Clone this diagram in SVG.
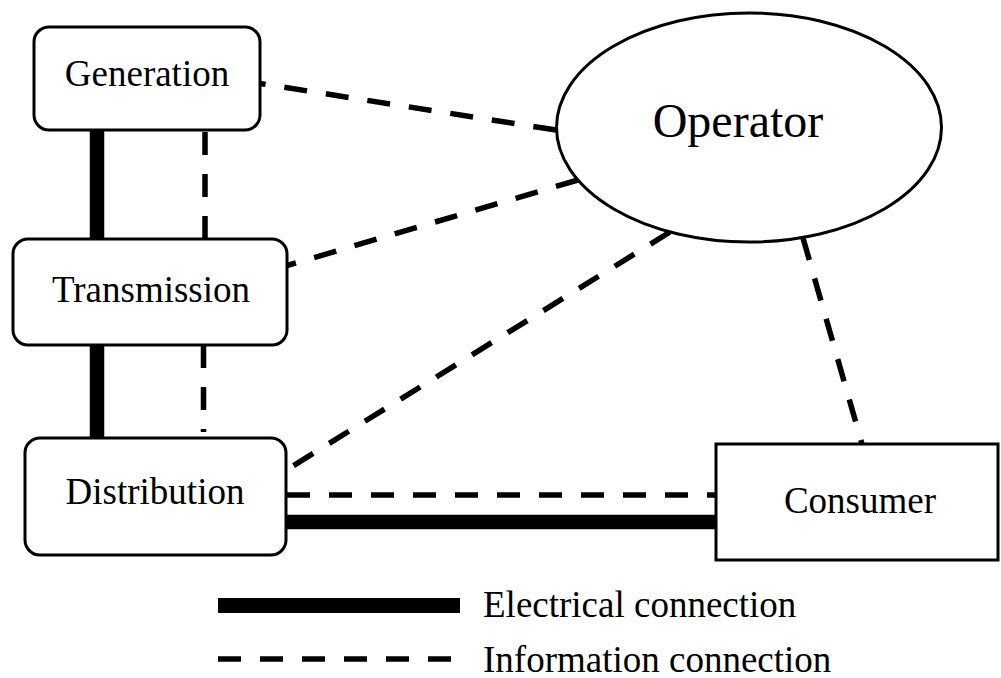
<svg xmlns="http://www.w3.org/2000/svg" width="1001" height="678" viewBox="0 0 1001 678">
<style>
.box{fill:#fff;stroke:#000;stroke-width:3}
.lbl{font-family:"Liberation Serif","Times New Roman",serif;font-size:37px;fill:#000}
.elec{stroke:#000;stroke-width:14.5;fill:none}
.info{stroke:#000;stroke-width:5.5;fill:none;stroke-dasharray:23 19}
</style>
<rect width="1001" height="678" fill="#fff"/>
<g id="connectors">
<line class="elec" x1="97" y1="130" x2="97" y2="239"/>
<line class="elec" x1="97" y1="345" x2="97" y2="438"/>
<line class="elec" x1="286" y1="522" x2="716" y2="522"/>
<line class="info" x1="205" y1="239" x2="205" y2="130"/>
<line class="info" x1="203.5" y1="345" x2="203.5" y2="432"/>
<line class="info" x1="287" y1="495" x2="716" y2="495"/>
<line class="info" x1="556" y1="130" x2="260" y2="83.5"/>
<line class="info" x1="578" y1="180" x2="287" y2="265.5"/>
<line class="info" x1="670" y1="232" x2="288" y2="469"/>
<line class="info" x1="803" y1="238" x2="862" y2="444"/>
</g>
<g id="generation">
<rect class="box" x="34" y="27" width="226" height="103" rx="15"/>
<text class="lbl" x="147" y="86" text-anchor="middle">Generation</text>
</g>
<g id="transmission">
<rect class="box" x="13" y="239" width="274" height="106" rx="15"/>
<text class="lbl" x="151" y="302" text-anchor="middle">Transmission</text>
</g>
<g id="distribution">
<rect class="box" x="25" y="438" width="261" height="117" rx="15"/>
<text class="lbl" x="155" y="504" text-anchor="middle">Distribution</text>
</g>
<g id="consumer">
<rect class="box" x="716" y="444" width="282" height="116"/>
<text class="lbl" x="860" y="513" text-anchor="middle">Consumer</text>
</g>
<g id="operator">
<ellipse class="box" cx="749" cy="127.5" rx="192.5" ry="114.5"/>
<text class="lbl" x="738" y="137" text-anchor="middle" style="font-size:48px">Operator</text>
</g>
<g id="legend">
<line class="elec" x1="218" y1="605.5" x2="460" y2="605.5" style="stroke-width:15"/>
<line class="info" x1="218" y1="659" x2="453" y2="659"/>
<text class="lbl" x="483" y="617">Electrical connection</text>
<text class="lbl" x="483" y="672">Information connection</text>
</g>
</svg>
